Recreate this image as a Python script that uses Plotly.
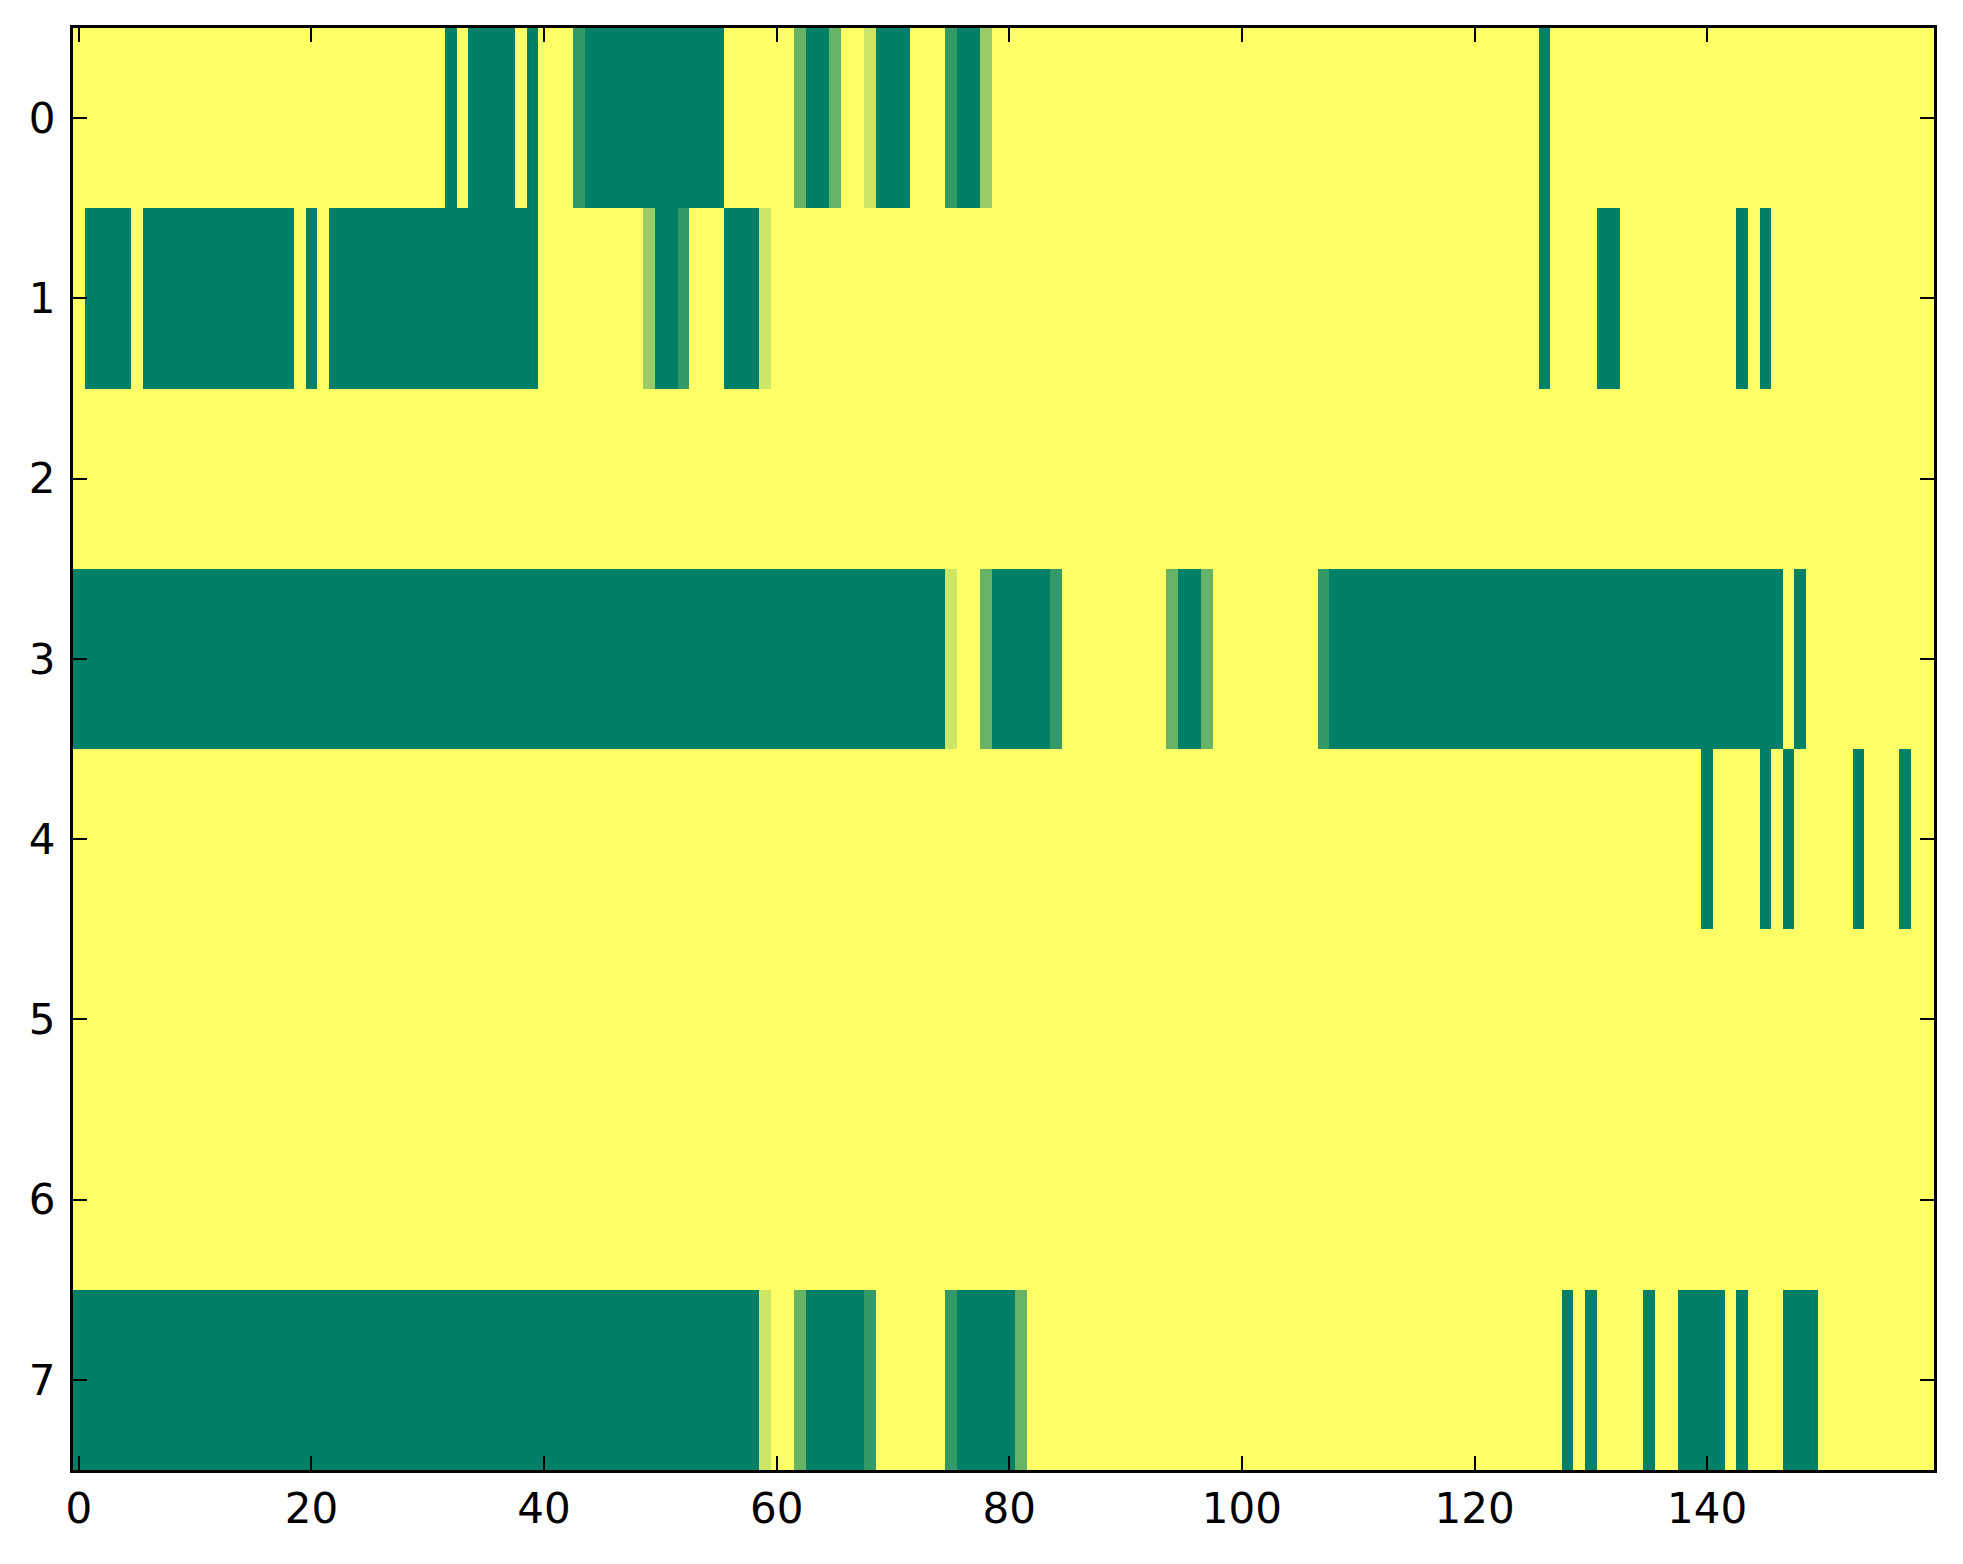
import plotly.graph_objects as go

# each row as runs of (value, length); 1 = yellow, 0 = green
row_0 = [(1, 32), (0, 1), (1, 1), (0, 4), (1, 1), (0, 1), (1, 3), (0.2, 1), (0, 12),
         (1, 6), (0.4, 1), (0, 2), (0.4, 1), (1, 2), (0.8, 1), (0, 3), (1, 3), (0.2, 1),
         (0, 2), (0.6, 1), (1, 47), (0, 1), (1, 33)]
row_1 = [(1, 1), (0, 4), (1, 1), (0, 13), (1, 1), (0, 1), (1, 1), (0, 18), (1, 9),
         (0.6, 1), (0, 2), (0.2, 1), (1, 3), (0, 3), (0.8, 1), (1, 66), (0, 1), (1, 4),
         (0, 2), (1, 10), (0, 1), (1, 1), (0, 1), (1, 14)]
row_2 = [(1, 160)]
row_3 = [(0, 75), (0.8, 1), (1, 2), (0.4, 1), (0, 5), (0.2, 1), (1, 9), (0.4, 1),
         (0, 2), (0.4, 1), (1, 9), (0.2, 1), (0, 39), (1, 1), (0, 1), (1, 11)]
row_4 = [(1, 140), (0, 1), (1, 4), (0, 1), (1, 1), (0, 1), (1, 5), (0, 1), (1, 3),
         (0, 1), (1, 2)]
row_5 = [(1, 160)]
row_6 = [(1, 160)]
row_7 = [(0, 59), (0.8, 1), (1, 2), (0.4, 1), (0, 5), (0.2, 1), (1, 6), (0.2, 1),
         (0, 5), (0.4, 1), (1, 46), (0, 1), (1, 1), (0, 1), (1, 4), (0, 1), (1, 2),
         (0, 4), (1, 1), (0, 1), (1, 3), (0, 3), (1, 10)]

rows = [row_0, row_1, row_2, row_3, row_4, row_5, row_6, row_7]
x_ticks = [0, 20, 40, 60, 80, 100, 120, 140]
y_ticks = [0, 1, 2, 3, 4, 5, 6, 7]


def expand(runs):
    out = []
    for val, n in runs:
        out += [val] * n
    return out


z = [expand(r) for r in rows]
ncols = len(z[0])

summer = [[0, "rgb(0,128,102)"], [1, "rgb(255,255,102)"]]

fig = go.Figure(go.Heatmap(
    z=z, x=list(range(ncols)), y=list(range(len(z))),
    colorscale=summer, zmin=0, zmax=1, showscale=False, hoverinfo="skip"
))

axis_style = dict(
    showline=True, linecolor="black", linewidth=3, mirror="ticks",
    ticks="inside", ticklen=14, tickwidth=2, tickcolor="black",
    showgrid=False, zeroline=False,
    tickfont=dict(family="DejaVu Sans", size=42, color="black"),
)

# page body has an 8px margin, so the figure is a little smaller than the window
fig.update_layout(
    width=1947, height=1548,
    margin=dict(l=65, r=21, t=20, b=86),
    paper_bgcolor="white", plot_bgcolor="white",
    xaxis=dict(range=[-0.5, ncols - 0.5], tickvals=x_ticks, ticklabelstandoff=0, **axis_style),
    yaxis=dict(range=[len(z) - 0.5, -0.5], tickvals=y_ticks, ticklabelstandoff=6, **axis_style),
)

fig.write_html("out.html")
